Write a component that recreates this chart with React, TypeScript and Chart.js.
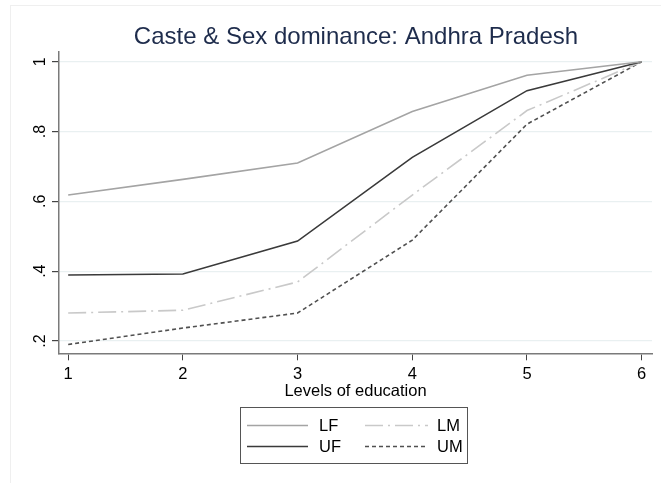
import React, { useEffect, useRef } from "react";
import { Chart, registerables } from "chart.js";

Chart.register(...registerables);

const levels = [1, 2, 3, 4, 5, 6];
const LF = [0.618, 0.663, 0.71, 0.857, 0.961, 1];
const UF = [0.389, 0.392, 0.486, 0.726, 0.917, 1];
const LM = [0.28, 0.288, 0.369, 0.618, 0.86, 1];
const UM = [0.19, 0.237, 0.28, 0.489, 0.821, 1];
const yTicks = [0.2, 0.4, 0.6, 0.8, 1];
const yTickLabels = [".2", ".4", ".6", ".8", "1"];
const xTicks = [1, 2, 3, 4, 5, 6];
const titleText = "Caste & Sex dominance: Andhra Pradesh";
const xTitle = "Levels of education";
const legendOrder = ["LF", "LM", "UF", "UM"];

const FONT = '"Liberation Sans", Arial, sans-serif';

const overlay = {
  id: "overlay",
  afterDraw(chart: any) {
    const ctx = chart.ctx;
    const area = chart.chartArea;
    const ys = chart.scales.y;
    ctx.save();
    // faint outer frame
    ctx.strokeStyle = "#efefef";
    ctx.lineWidth = 1;
    ctx.strokeRect(10.5, 5.5, 800, 800);
    // title
    ctx.fillStyle = "#1e2c4c";
    ctx.font = "24px " + FONT;
    ctx.textAlign = "center";
    ctx.textBaseline = "middle";
    ctx.fillText(titleText, 356, 37);
    // y tick labels rotated
    ctx.fillStyle = "#000";
    ctx.font = "16px " + FONT;
    yTicks.forEach((v, i) => {
      const py = ys.getPixelForValue(v);
      ctx.save();
      ctx.translate(area.left - 18, py);
      ctx.rotate(-Math.PI / 2);
      ctx.textAlign = "center";
      ctx.textBaseline = "middle";
      ctx.fillText(yTickLabels[i], 0, 0);
      ctx.restore();
    });
    // x axis title
    ctx.font = "16.5px " + FONT;
    ctx.textAlign = "center";
    ctx.textBaseline = "middle";
    ctx.fillText(xTitle, (area.left + area.right) / 2, 391);
    // legend
    const bx = 240.5, by = 407.5, bw = 227, bh = 56;
    ctx.strokeStyle = "#555";
    ctx.lineWidth = 1;
    ctx.strokeRect(bx, by, bw, bh);
    const cols = [{ x0: 247, x1: 308, tx: 319 }, { x0: 365, x1: 428, tx: 437 }];
    const rows = [425.5, 446.5];
    ctx.font = "16.5px " + FONT;
    ctx.textAlign = "left";
    legendOrder.forEach((name, k) => {
      const ds = chart.data.datasets.find((d: any) => d.label === name);
      const c = cols[k % 2];
      const r = rows[Math.floor(k / 2)];
      ctx.save();
      ctx.strokeStyle = ds.borderColor;
      ctx.lineWidth = ds.borderWidth;
      ctx.setLineDash(ds.borderDash || []);
      ctx.beginPath();
      ctx.moveTo(c.x0, r);
      ctx.lineTo(c.x1, r);
      ctx.stroke();
      ctx.restore();
      ctx.fillStyle = "#000";
      ctx.fillText(name, c.tx, r + 1);
    });
    ctx.restore();
  },
};

export default function App() {
  const ref = useRef<HTMLCanvasElement | null>(null);
  useEffect(() => {
    if (!ref.current) return;
    const mk = (arr: number[]) => levels.map((x, i) => ({ x, y: arr[i] }));
    const chart = new Chart(ref.current, {
      type: "line",
      data: {
        datasets: [
          { label: "LF", data: mk(LF), borderColor: "#a4a4a4", borderWidth: 1.6, borderDash: [] },
          { label: "UF", data: mk(UF), borderColor: "#3a3a3a", borderWidth: 1.6, borderDash: [] },
          { label: "LM", data: mk(LM), borderColor: "#c9c9c9", borderWidth: 1.6, borderDash: [18, 5, 2, 5] },
          { label: "UM", data: mk(UM), borderColor: "#505050", borderWidth: 1.6, borderDash: [4, 3] },
        ],
      },
      options: {
        responsive: false,
        animation: false,
        events: [],
        elements: { point: { radius: 0 }, line: { tension: 0 } },
        layout: { padding: { left: 0, top: 51.7, right: 9, bottom: 99.7 } },
        plugins: { legend: { display: false }, title: { display: false }, tooltip: { enabled: false } },
        scales: {
          x: {
            type: "linear",
            min: 0.92,
            max: 6.09,
            afterBuildTicks: (s: any) => { s.ticks = xTicks.map((v) => ({ value: v })); },
            afterFit: (s: any) => { s.height = 30; },
            grid: { drawOnChartArea: false, drawTicks: true, tickLength: 7, tickColor: "#444" },
            border: { color: "#7a7a7a", width: 1.5 },
            ticks: { color: "#000", font: { size: 16.5, family: FONT }, padding: 4, callback: (v: any) => String(v) },
          },
          y: {
            type: "linear",
            min: 0.1647,
            max: 1.0286,
            afterBuildTicks: (s: any) => { s.ticks = yTicks.map((v) => ({ value: v })); },
            afterFit: (s: any) => { s.width = 59; },
            grid: { drawOnChartArea: true, color: "#e9f0f1", lineWidth: 1.2, drawTicks: true, tickLength: 7, tickColor: "#444" },
            border: { color: "#7a7a7a", width: 1.5 },
            ticks: { color: "rgba(0,0,0,0)", font: { size: 16, family: FONT } },
          },
        },
      },
      plugins: [overlay],
    });
    return () => chart.destroy();
  }, []);
  return (
    <div style={{ position: "fixed", left: 0, top: 0, width: 661, height: 483, background: "#fff" }}>
      <canvas ref={ref} width={661} height={483} style={{ display: "block" }} />
    </div>
  );
}
